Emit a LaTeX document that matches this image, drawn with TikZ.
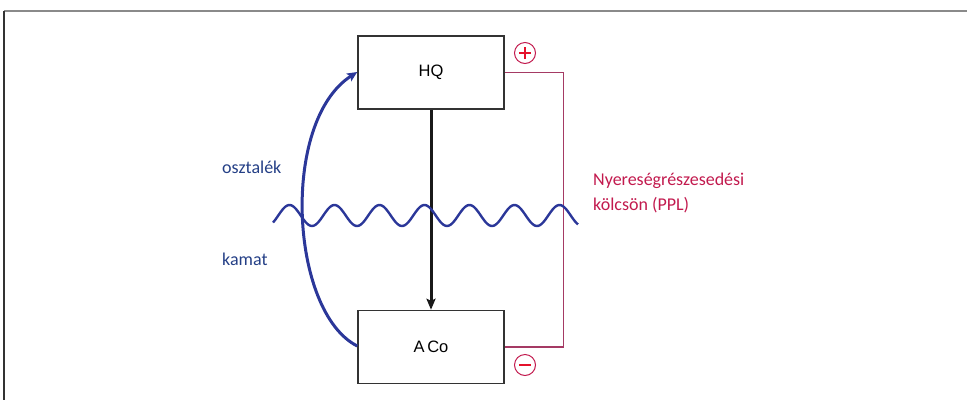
\documentclass[tikz,border=0pt]{standalone}
\usepackage{fontspec}
\setmainfont{Liberation Sans}
\newfontfamily\calib{Carlito}
\usetikzlibrary{arrows.meta}
\definecolor{frameg}{HTML}{8A8A8A}
\definecolor{boxc}{HTML}{333333}
\definecolor{navy}{HTML}{243F86}
\definecolor{curveb}{HTML}{2B3799}
\definecolor{crim}{HTML}{C21A4E}
\definecolor{linered}{HTML}{A53A64}
\definecolor{signred}{HTML}{E4112B}
\tikzset{
  box/.style={draw=boxc, line width=1.5pt, minimum width=146pt, minimum height=73pt, inner sep=0pt, font=\fontsize{16.5}{18}\selectfont},
  bluelbl/.style={text=navy, anchor=base west, inner sep=0pt, font=\calib\fontsize{18}{22}\selectfont},
  redlbl/.style={text=crim, anchor=base west, inner sep=0pt, font=\calib\fontsize{18}{22}\selectfont},
  signc/.style={circle, draw=crim, line width=1pt, minimum size=21pt, inner sep=0pt},
  signl/.style={draw=signred, line width=2pt},
}
\begin{document}
\begin{tikzpicture}[x=1pt,y=-1pt]
\useasboundingbox (0,0) rectangle (967,400);
% frame
\draw[frameg, line width=1.5pt] (4,11) -- (967,11);
\draw[boxc, line width=1.5pt] (4,11) -- (4,400);
% boxes
\node[box] (hq) at (431,72.5) {HQ};
\node[box] (aco) at (431,347) {A\,Co};
% vertical arrow
\draw[black!90, line width=3pt, -{Stealth[length=11pt,width=9pt,inset=2pt]}] (hq.south) -- (aco.north);
% red loop
\draw[linered, line width=1.2pt] (hq.east) -- ++(59,0) coordinate (rc) |- (aco.east);
% signs
\node[signc] (plus) at (525,53) {};
\draw[signl] ([xshift=-6pt]plus.center) -- ([xshift=6pt]plus.center);
\draw[signl] ([yshift=-6pt]plus.center) -- ([yshift=6pt]plus.center);
\node[signc] (minus) at (525,365) {};
\draw[signl] ([xshift=-6pt]minus.center) -- ([xshift=6pt]minus.center);
% wave
\draw[curveb, line width=2.4pt, domain=273:578, samples=200, smooth, variable=\t]
  plot ({\t},{215.5+10.5*cos(8*(\t-267))});
% blue curved arrow
\draw[curveb, line width=3pt, -{Stealth[length=10pt,width=9pt,inset=2pt]}]
  ([yshift=1pt]aco.west) .. controls (290,312) and (280,122) .. ([yshift=0.5pt]hq.west);
% labels
\node[bluelbl] (oszt) at (222,173) {osztalék};
\node[bluelbl] (kamat) at (222,265) {kamat};
\node[redlbl] (ppl1) at (593,185) {Nyereségrészesedési};
\node[redlbl] (ppl2) at (593,210) {kölcsön (PPL)};
\end{tikzpicture}
\end{document}
